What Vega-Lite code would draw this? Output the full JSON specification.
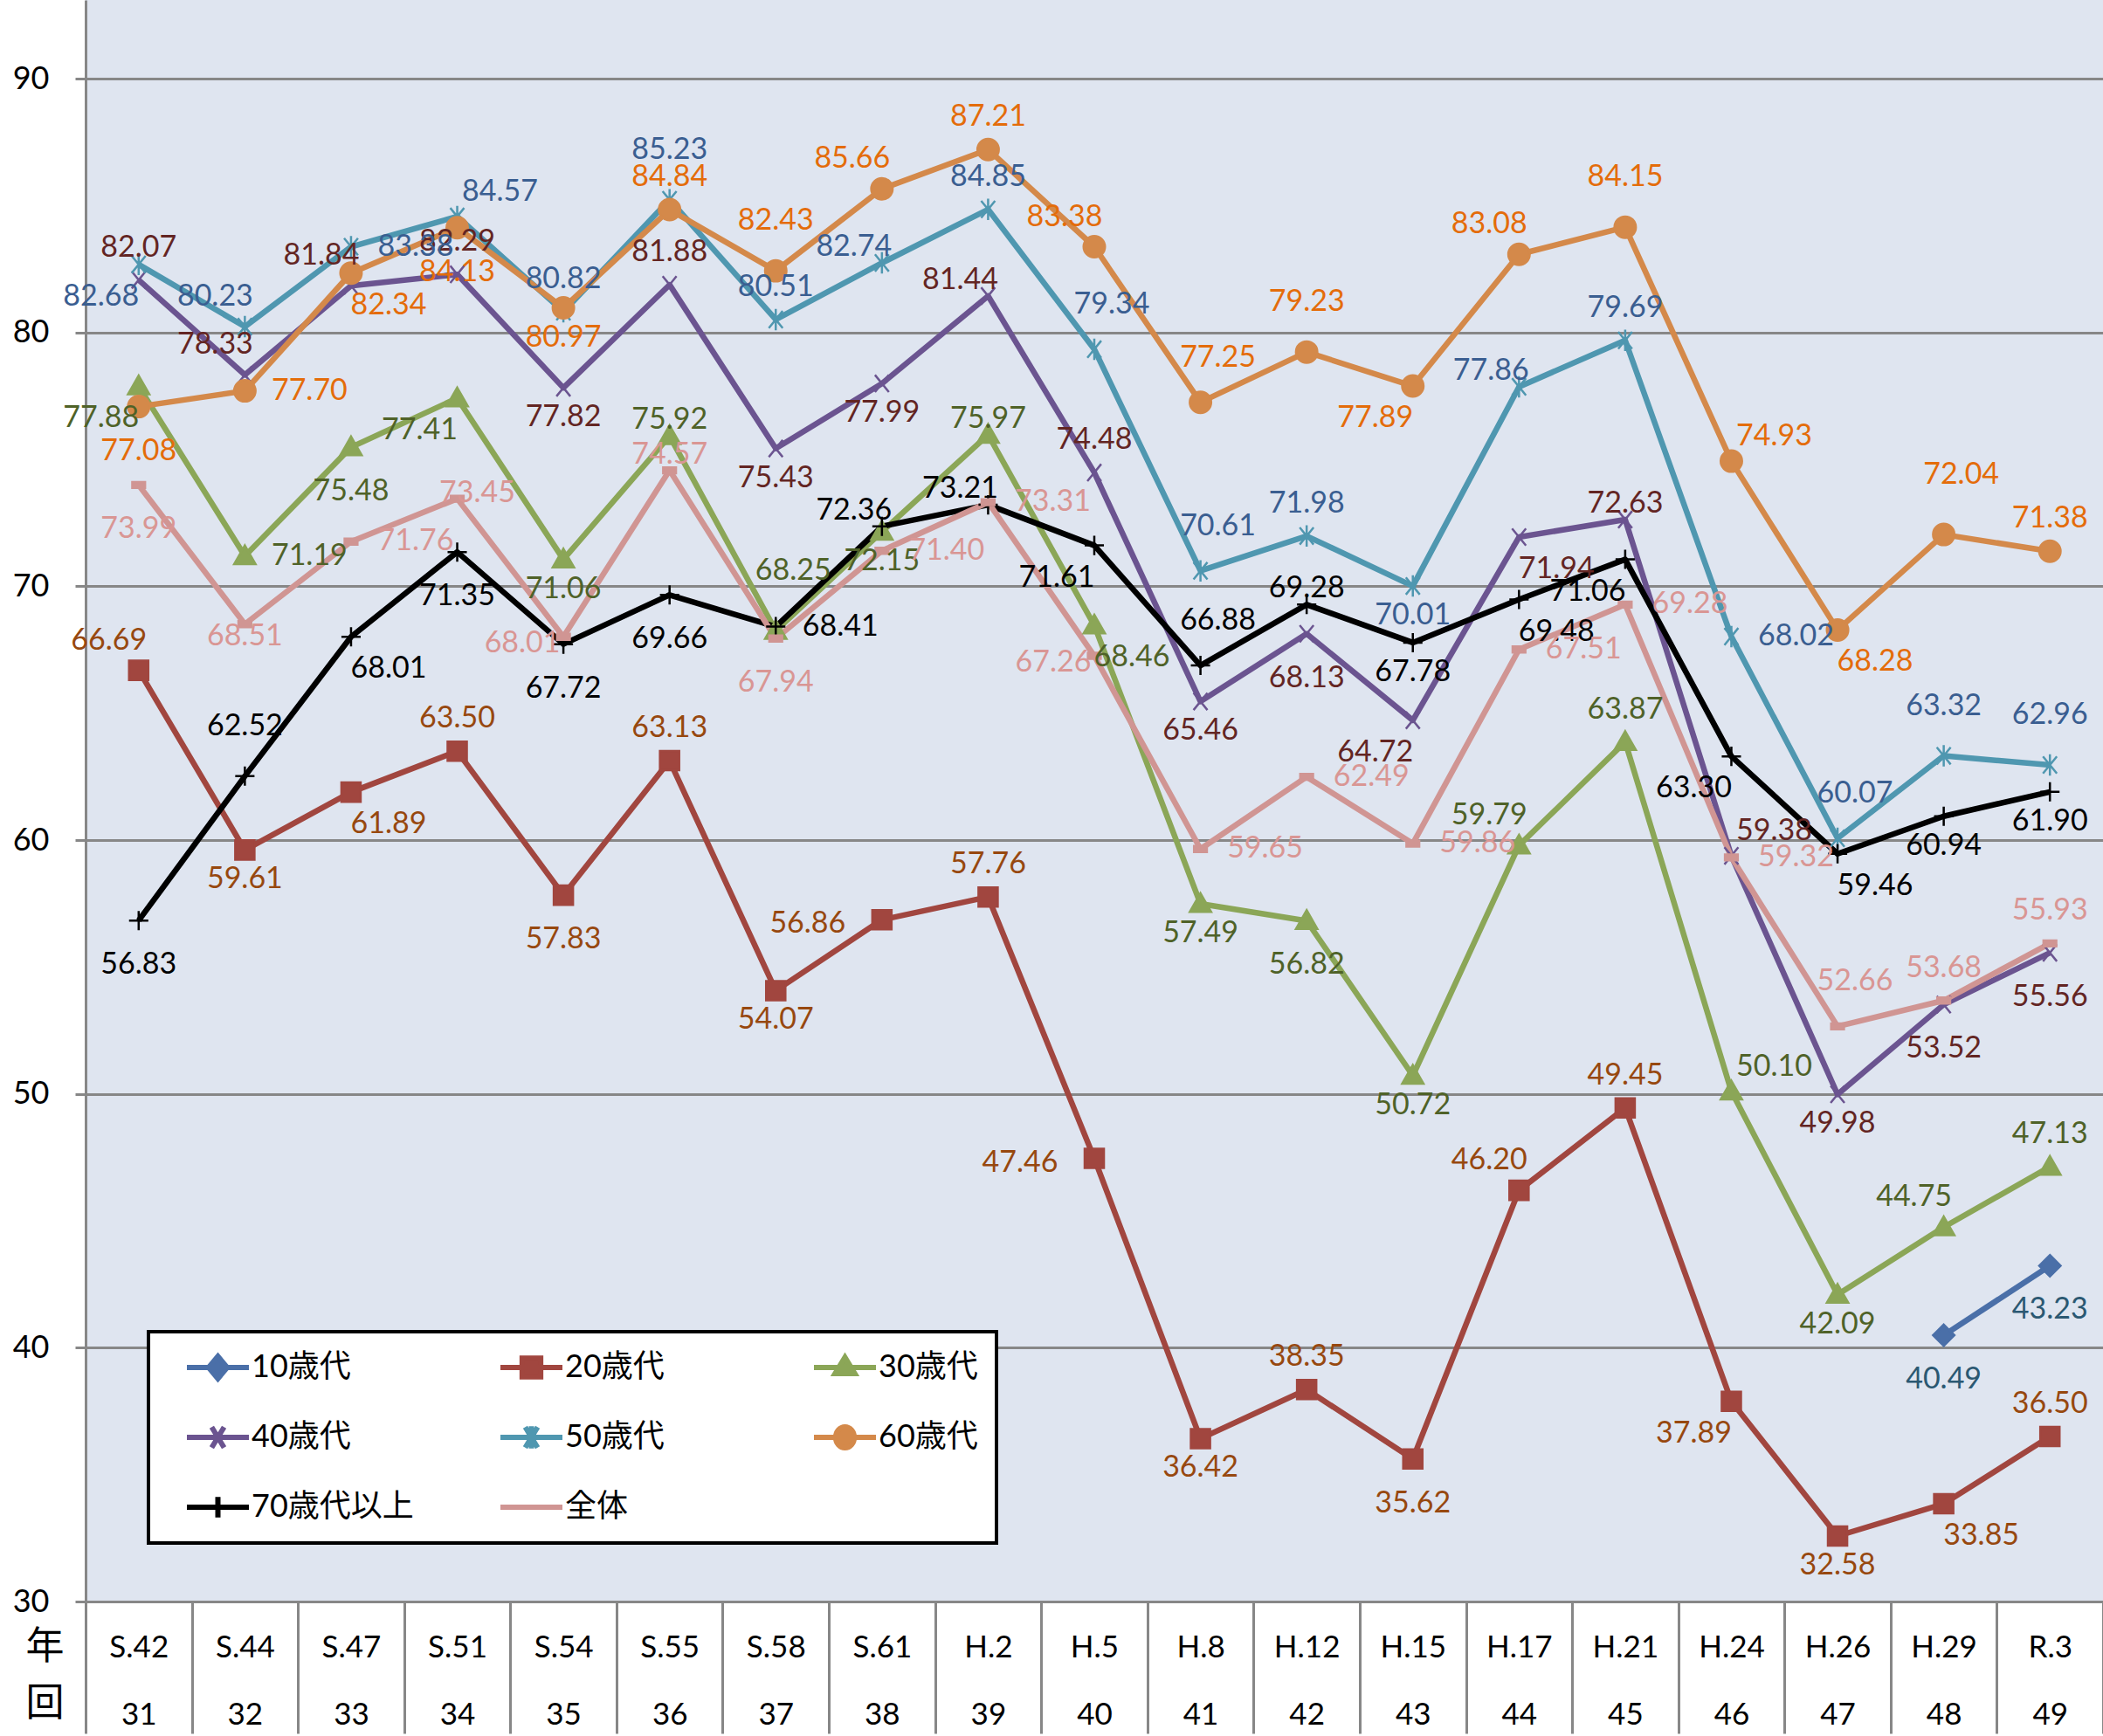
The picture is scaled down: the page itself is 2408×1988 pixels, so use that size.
{
  "$schema": "https://vega.github.io/schema/vega-lite/v6.json",
  "width": 2310,
  "height": 1834,
  "autosize": {"type": "none"},
  "padding": {"left": 98, "top": 0, "right": 0, "bottom": 154},
  "background": "white",
  "config": {
    "view": {"fill": "#DFE5F0", "stroke": null},
    "font": "Lato"
  },
  "data": {"values": [
    {"year":"S.42","kai":31,"series":"20歳代","value":66.69},
    {"year":"S.44","kai":32,"series":"20歳代","value":59.61},
    {"year":"S.47","kai":33,"series":"20歳代","value":61.89},
    {"year":"S.51","kai":34,"series":"20歳代","value":63.50},
    {"year":"S.54","kai":35,"series":"20歳代","value":57.83},
    {"year":"S.55","kai":36,"series":"20歳代","value":63.13},
    {"year":"S.58","kai":37,"series":"20歳代","value":54.07},
    {"year":"S.61","kai":38,"series":"20歳代","value":56.86},
    {"year":"H.2","kai":39,"series":"20歳代","value":57.76},
    {"year":"H.5","kai":40,"series":"20歳代","value":47.46},
    {"year":"H.8","kai":41,"series":"20歳代","value":36.42},
    {"year":"H.12","kai":42,"series":"20歳代","value":38.35},
    {"year":"H.15","kai":43,"series":"20歳代","value":35.62},
    {"year":"H.17","kai":44,"series":"20歳代","value":46.20},
    {"year":"H.21","kai":45,"series":"20歳代","value":49.45},
    {"year":"H.24","kai":46,"series":"20歳代","value":37.89},
    {"year":"H.26","kai":47,"series":"20歳代","value":32.58},
    {"year":"H.29","kai":48,"series":"20歳代","value":33.85},
    {"year":"R.3","kai":49,"series":"20歳代","value":36.50},
    {"year":"S.42","kai":31,"series":"30歳代","value":77.88},
    {"year":"S.44","kai":32,"series":"30歳代","value":71.19},
    {"year":"S.47","kai":33,"series":"30歳代","value":75.48},
    {"year":"S.51","kai":34,"series":"30歳代","value":77.41},
    {"year":"S.54","kai":35,"series":"30歳代","value":71.06},
    {"year":"S.55","kai":36,"series":"30歳代","value":75.92},
    {"year":"S.58","kai":37,"series":"30歳代","value":68.25},
    {"year":"S.61","kai":38,"series":"30歳代","value":72.15},
    {"year":"H.2","kai":39,"series":"30歳代","value":75.97},
    {"year":"H.5","kai":40,"series":"30歳代","value":68.46},
    {"year":"H.8","kai":41,"series":"30歳代","value":57.49},
    {"year":"H.12","kai":42,"series":"30歳代","value":56.82},
    {"year":"H.15","kai":43,"series":"30歳代","value":50.72},
    {"year":"H.17","kai":44,"series":"30歳代","value":59.79},
    {"year":"H.21","kai":45,"series":"30歳代","value":63.87},
    {"year":"H.24","kai":46,"series":"30歳代","value":50.10},
    {"year":"H.26","kai":47,"series":"30歳代","value":42.09},
    {"year":"H.29","kai":48,"series":"30歳代","value":44.75},
    {"year":"R.3","kai":49,"series":"30歳代","value":47.13},
    {"year":"S.42","kai":31,"series":"40歳代","value":82.07},
    {"year":"S.44","kai":32,"series":"40歳代","value":78.33},
    {"year":"S.47","kai":33,"series":"40歳代","value":81.84},
    {"year":"S.51","kai":34,"series":"40歳代","value":82.29},
    {"year":"S.54","kai":35,"series":"40歳代","value":77.82},
    {"year":"S.55","kai":36,"series":"40歳代","value":81.88},
    {"year":"S.58","kai":37,"series":"40歳代","value":75.43},
    {"year":"S.61","kai":38,"series":"40歳代","value":77.99},
    {"year":"H.2","kai":39,"series":"40歳代","value":81.44},
    {"year":"H.5","kai":40,"series":"40歳代","value":74.48},
    {"year":"H.8","kai":41,"series":"40歳代","value":65.46},
    {"year":"H.12","kai":42,"series":"40歳代","value":68.13},
    {"year":"H.15","kai":43,"series":"40歳代","value":64.72},
    {"year":"H.17","kai":44,"series":"40歳代","value":71.94},
    {"year":"H.21","kai":45,"series":"40歳代","value":72.63},
    {"year":"H.24","kai":46,"series":"40歳代","value":59.38},
    {"year":"H.26","kai":47,"series":"40歳代","value":49.98},
    {"year":"H.29","kai":48,"series":"40歳代","value":53.52},
    {"year":"R.3","kai":49,"series":"40歳代","value":55.56},
    {"year":"S.42","kai":31,"series":"50歳代","value":82.68},
    {"year":"S.44","kai":32,"series":"50歳代","value":80.23},
    {"year":"S.47","kai":33,"series":"50歳代","value":83.38},
    {"year":"S.51","kai":34,"series":"50歳代","value":84.57},
    {"year":"S.54","kai":35,"series":"50歳代","value":80.82},
    {"year":"S.55","kai":36,"series":"50歳代","value":85.23},
    {"year":"S.58","kai":37,"series":"50歳代","value":80.51},
    {"year":"S.61","kai":38,"series":"50歳代","value":82.74},
    {"year":"H.2","kai":39,"series":"50歳代","value":84.85},
    {"year":"H.5","kai":40,"series":"50歳代","value":79.34},
    {"year":"H.8","kai":41,"series":"50歳代","value":70.61},
    {"year":"H.12","kai":42,"series":"50歳代","value":71.98},
    {"year":"H.15","kai":43,"series":"50歳代","value":70.01},
    {"year":"H.17","kai":44,"series":"50歳代","value":77.86},
    {"year":"H.21","kai":45,"series":"50歳代","value":79.69},
    {"year":"H.24","kai":46,"series":"50歳代","value":68.02},
    {"year":"H.26","kai":47,"series":"50歳代","value":60.07},
    {"year":"H.29","kai":48,"series":"50歳代","value":63.32},
    {"year":"R.3","kai":49,"series":"50歳代","value":62.96},
    {"year":"S.42","kai":31,"series":"60歳代","value":77.08},
    {"year":"S.44","kai":32,"series":"60歳代","value":77.70},
    {"year":"S.47","kai":33,"series":"60歳代","value":82.34},
    {"year":"S.51","kai":34,"series":"60歳代","value":84.13},
    {"year":"S.54","kai":35,"series":"60歳代","value":80.97},
    {"year":"S.55","kai":36,"series":"60歳代","value":84.84},
    {"year":"S.58","kai":37,"series":"60歳代","value":82.43},
    {"year":"S.61","kai":38,"series":"60歳代","value":85.66},
    {"year":"H.2","kai":39,"series":"60歳代","value":87.21},
    {"year":"H.5","kai":40,"series":"60歳代","value":83.38},
    {"year":"H.8","kai":41,"series":"60歳代","value":77.25},
    {"year":"H.12","kai":42,"series":"60歳代","value":79.23},
    {"year":"H.15","kai":43,"series":"60歳代","value":77.89},
    {"year":"H.17","kai":44,"series":"60歳代","value":83.08},
    {"year":"H.21","kai":45,"series":"60歳代","value":84.15},
    {"year":"H.24","kai":46,"series":"60歳代","value":74.93},
    {"year":"H.26","kai":47,"series":"60歳代","value":68.28},
    {"year":"H.29","kai":48,"series":"60歳代","value":72.04},
    {"year":"R.3","kai":49,"series":"60歳代","value":71.38},
    {"year":"S.42","kai":31,"series":"70歳代以上","value":56.83},
    {"year":"S.44","kai":32,"series":"70歳代以上","value":62.52},
    {"year":"S.47","kai":33,"series":"70歳代以上","value":68.01},
    {"year":"S.51","kai":34,"series":"70歳代以上","value":71.35},
    {"year":"S.54","kai":35,"series":"70歳代以上","value":67.72},
    {"year":"S.55","kai":36,"series":"70歳代以上","value":69.66},
    {"year":"S.58","kai":37,"series":"70歳代以上","value":68.41},
    {"year":"S.61","kai":38,"series":"70歳代以上","value":72.36},
    {"year":"H.2","kai":39,"series":"70歳代以上","value":73.21},
    {"year":"H.5","kai":40,"series":"70歳代以上","value":71.61},
    {"year":"H.8","kai":41,"series":"70歳代以上","value":66.88},
    {"year":"H.12","kai":42,"series":"70歳代以上","value":69.28},
    {"year":"H.15","kai":43,"series":"70歳代以上","value":67.78},
    {"year":"H.17","kai":44,"series":"70歳代以上","value":69.48},
    {"year":"H.21","kai":45,"series":"70歳代以上","value":71.06},
    {"year":"H.24","kai":46,"series":"70歳代以上","value":63.30},
    {"year":"H.26","kai":47,"series":"70歳代以上","value":59.46},
    {"year":"H.29","kai":48,"series":"70歳代以上","value":60.94},
    {"year":"R.3","kai":49,"series":"70歳代以上","value":61.90},
    {"year":"S.42","kai":31,"series":"全体","value":73.99},
    {"year":"S.44","kai":32,"series":"全体","value":68.51},
    {"year":"S.47","kai":33,"series":"全体","value":71.76},
    {"year":"S.51","kai":34,"series":"全体","value":73.45},
    {"year":"S.54","kai":35,"series":"全体","value":68.01},
    {"year":"S.55","kai":36,"series":"全体","value":74.57},
    {"year":"S.58","kai":37,"series":"全体","value":67.94},
    {"year":"S.61","kai":38,"series":"全体","value":71.40},
    {"year":"H.2","kai":39,"series":"全体","value":73.31},
    {"year":"H.5","kai":40,"series":"全体","value":67.26},
    {"year":"H.8","kai":41,"series":"全体","value":59.65},
    {"year":"H.12","kai":42,"series":"全体","value":62.49},
    {"year":"H.15","kai":43,"series":"全体","value":59.86},
    {"year":"H.17","kai":44,"series":"全体","value":67.51},
    {"year":"H.21","kai":45,"series":"全体","value":69.28},
    {"year":"H.24","kai":46,"series":"全体","value":59.32},
    {"year":"H.26","kai":47,"series":"全体","value":52.66},
    {"year":"H.29","kai":48,"series":"全体","value":53.68},
    {"year":"R.3","kai":49,"series":"全体","value":55.93},
    {"year":"H.29","kai":48,"series":"10歳代","value":40.49},
    {"year":"R.3","kai":49,"series":"10歳代","value":43.23}
  ]},
  "resolve": {"scale": {"x": "independent"}, "axis": {"x": "independent"}},
  "layer": [
    {
      "encoding": {
        "x": {"field": "year", "type": "nominal",
              "scale": {"type": "point", "padding": 0.5, "domain": ["S.42","S.44","S.47","S.51","S.54","S.55","S.58","S.61","H.2","H.5","H.8","H.12","H.15","H.17","H.21","H.24","H.26","H.29","R.3"]},
              "axis": {"orient": "bottom", "title": "年", "titleX": -47, "titleY": 52, "titleAngle": 0, "titleAlign": "center", "titleBaseline": "middle", "titleFont": "Noto Sans CJK JP", "titleFontSize": 44, "titleFontWeight": "normal", "titleColor": "black",
                       "labelAngle": 0, "labelFont": "Lato", "labelFontSize": 35, "labelColor": "black", "labelBaseline": "middle", "labelPadding": 52,
                       "ticks": false, "grid": false, "domain": true, "domainColor": "#878787", "domainWidth": 3}},
        "y": {"field": "value", "type": "quantitative",
              "scale": {"domain": [30, 93.1], "nice": false, "zero": false},
              "axis": {"values": [30,40,50,60,70,80,90], "title": null, "grid": true, "gridColor": "#878787", "gridWidth": 3, "gridOpacity": 1,
                       "domain": true, "domainColor": "#878787", "domainWidth": 3, "ticks": true, "tickSize": 12, "tickColor": "#878787", "tickWidth": 3,
                       "labelFont": "Lato", "labelFontSize": 36, "labelColor": "black", "labelPadding": 30}}
      },
      "layer": [
        {
          "mark": {"type": "line", "strokeWidth": 6.5, "strokeJoin": "round"},
          "encoding": {
            "color": {"field": "series", "type": "nominal",
                      "scale": {"domain": ["10歳代","20歳代","30歳代","40歳代","50歳代","60歳代","70歳代以上","全体"], "range": ["#4A6FA8","#A1463F","#8BA657","#6B5490","#4F97B0","#D4894A","#000000","#D09593"]},
                      "legend": {"title": null, "orient": "none", "legendX": 72, "legendY": 1525, "columns": 3, "direction": "horizontal",
                                 "symbolSize": 5041, "symbolStrokeWidth": 6, "symbolOffset": 20, "clipHeight": 40,
                                 "labelFont": "Lato, Noto Sans CJK JP", "labelFontSize": 36, "labelColor": "black", "labelOffset": 0, "labelLimit": 400,
                                 "fillColor": "white", "strokeColor": "black", "padding": 21, "rowPadding": 40, "columnPadding": 76, "gridAlign": "all",
                                 "encode": {
                                   "legend": {"update": {"strokeWidth": {"value": 4}}},
                                   "symbols": {"update": {
                                     "shape": {"signal": "datum.value === '10歳代' ? 'M-1,0H1M0,-0.36L0.3,0L0,0.36L-0.3,0Z' : datum.value === '20歳代' ? 'M-1,0H1M-0.3,-0.3H0.3V0.3H-0.3Z' : datum.value === '30歳代' ? 'M-1,0H1M0,-0.33L0.32,0.2H-0.32Z' : datum.value === '40歳代' ? 'M-1,0H1M-0.2,-0.33L0.2,0.33M0.2,-0.33L-0.2,0.33' : datum.value === '50歳代' ? 'M-1,0H1M-0.2,-0.33L0.2,0.33M0.2,-0.33L-0.2,0.33M0,-0.36V0.36' : datum.value === '60歳代' ? 'M-1,0H1M-0.3,0A0.3,0.34,0,1,1,0.3,0A0.3,0.34,0,1,1,-0.3,0Z' : datum.value === '70歳代以上' ? 'M-1,0H1M0,-0.33V0.33' : 'M-1,0H1'"},
                                     "fill": {"scale": "color", "field": "value"},
                                     "stroke": {"scale": "color", "field": "value"},
                                     "strokeWidth": {"value": 6},
                                     "opacity": {"value": 1}
                                   }}
                                 }}},
            "order": {"field": "kai", "type": "quantitative"}
          }
        },
        {"transform": [{"filter": "datum.series === '10歳代'"}],
         "mark": {"type": "point", "shape": "M0,-1L1,0L0,1L-1,0Z", "filled": true, "size": 600, "strokeWidth": 2.5, "opacity": 1},
         "encoding": {"color": {"field": "series", "type": "nominal", "scale": {"domain": ["10歳代","20歳代","30歳代","40歳代","50歳代","60歳代","70歳代以上","全体"], "range": ["#4A6FA8","#A1463F","#8BA657","#6B5490","#4F97B0","#D4894A","#000000","#D09593"]}},
                      "stroke": {"field": "series", "type": "nominal", "scale": {"domain": ["10歳代","20歳代","30歳代","40歳代","50歳代","60歳代","70歳代以上","全体"], "range": ["#4A6FA8","#A1463F","#8BA657","#6B5490","#4F97B0","#D4894A","#000000","#D09593"]}, "legend": null}}},
        {"transform": [{"filter": "datum.series === '20歳代'"}],
         "mark": {"type": "point", "shape": "M-0.9,-0.9H0.9V0.9H-0.9Z", "filled": true, "size": 600, "strokeWidth": 2.5, "opacity": 1},
         "encoding": {"color": {"field": "series", "type": "nominal", "scale": {"domain": ["10歳代","20歳代","30歳代","40歳代","50歳代","60歳代","70歳代以上","全体"], "range": ["#4A6FA8","#A1463F","#8BA657","#6B5490","#4F97B0","#D4894A","#000000","#D09593"]}},
                      "stroke": {"field": "series", "type": "nominal", "scale": {"domain": ["10歳代","20歳代","30歳代","40歳代","50歳代","60歳代","70歳代以上","全体"], "range": ["#4A6FA8","#A1463F","#8BA657","#6B5490","#4F97B0","#D4894A","#000000","#D09593"]}, "legend": null}}},
        {"transform": [{"filter": "datum.series === '30歳代'"}],
         "mark": {"type": "point", "shape": "M0,-1L1,0.75H-1Z", "filled": true, "size": 600, "strokeWidth": 2.5, "opacity": 1},
         "encoding": {"color": {"field": "series", "type": "nominal", "scale": {"domain": ["10歳代","20歳代","30歳代","40歳代","50歳代","60歳代","70歳代以上","全体"], "range": ["#4A6FA8","#A1463F","#8BA657","#6B5490","#4F97B0","#D4894A","#000000","#D09593"]}},
                      "stroke": {"field": "series", "type": "nominal", "scale": {"domain": ["10歳代","20歳代","30歳代","40歳代","50歳代","60歳代","70歳代以上","全体"], "range": ["#4A6FA8","#A1463F","#8BA657","#6B5490","#4F97B0","#D4894A","#000000","#D09593"]}, "legend": null}}},
        {"transform": [{"filter": "datum.series === '40歳代'"}],
         "mark": {"type": "point", "shape": "M-0.65,-0.8L0.65,0.8M0.65,-0.8L-0.65,0.8", "filled": true, "size": 600, "strokeWidth": 2.5, "opacity": 1},
         "encoding": {"color": {"field": "series", "type": "nominal", "scale": {"domain": ["10歳代","20歳代","30歳代","40歳代","50歳代","60歳代","70歳代以上","全体"], "range": ["#4A6FA8","#A1463F","#8BA657","#6B5490","#4F97B0","#D4894A","#000000","#D09593"]}},
                      "stroke": {"field": "series", "type": "nominal", "scale": {"domain": ["10歳代","20歳代","30歳代","40歳代","50歳代","60歳代","70歳代以上","全体"], "range": ["#4A6FA8","#A1463F","#8BA657","#6B5490","#4F97B0","#D4894A","#000000","#D09593"]}, "legend": null}}},
        {"transform": [{"filter": "datum.series === '50歳代'"}],
         "mark": {"type": "point", "shape": "M-0.65,-0.8L0.65,0.8M0.65,-0.8L-0.65,0.8M0,-1V1", "filled": true, "size": 600, "strokeWidth": 2.5, "opacity": 1},
         "encoding": {"color": {"field": "series", "type": "nominal", "scale": {"domain": ["10歳代","20歳代","30歳代","40歳代","50歳代","60歳代","70歳代以上","全体"], "range": ["#4A6FA8","#A1463F","#8BA657","#6B5490","#4F97B0","#D4894A","#000000","#D09593"]}},
                      "stroke": {"field": "series", "type": "nominal", "scale": {"domain": ["10歳代","20歳代","30歳代","40歳代","50歳代","60歳代","70歳代以上","全体"], "range": ["#4A6FA8","#A1463F","#8BA657","#6B5490","#4F97B0","#D4894A","#000000","#D09593"]}, "legend": null}}},
        {"transform": [{"filter": "datum.series === '60歳代'"}],
         "mark": {"type": "point", "shape": "M-1,0A1,1,0,1,1,1,0A1,1,0,1,1,-1,0Z", "filled": true, "size": 600, "strokeWidth": 2.5, "opacity": 1},
         "encoding": {"color": {"field": "series", "type": "nominal", "scale": {"domain": ["10歳代","20歳代","30歳代","40歳代","50歳代","60歳代","70歳代以上","全体"], "range": ["#4A6FA8","#A1463F","#8BA657","#6B5490","#4F97B0","#D4894A","#000000","#D09593"]}},
                      "stroke": {"field": "series", "type": "nominal", "scale": {"domain": ["10歳代","20歳代","30歳代","40歳代","50歳代","60歳代","70歳代以上","全体"], "range": ["#4A6FA8","#A1463F","#8BA657","#6B5490","#4F97B0","#D4894A","#000000","#D09593"]}, "legend": null}}},
        {"transform": [{"filter": "datum.series === '70歳代以上'"}],
         "mark": {"type": "point", "shape": "M-0.9,0H0.9M0,-0.9V0.9", "filled": true, "size": 600, "strokeWidth": 2.5, "opacity": 1},
         "encoding": {"color": {"field": "series", "type": "nominal", "scale": {"domain": ["10歳代","20歳代","30歳代","40歳代","50歳代","60歳代","70歳代以上","全体"], "range": ["#4A6FA8","#A1463F","#8BA657","#6B5490","#4F97B0","#D4894A","#000000","#D09593"]}},
                      "stroke": {"field": "series", "type": "nominal", "scale": {"domain": ["10歳代","20歳代","30歳代","40歳代","50歳代","60歳代","70歳代以上","全体"], "range": ["#4A6FA8","#A1463F","#8BA657","#6B5490","#4F97B0","#D4894A","#000000","#D09593"]}, "legend": null}}},
        {"transform": [{"filter": "datum.series === '全体'"}],
         "mark": {"type": "point", "shape": "M-0.6,-0.28H0.6V0.28H-0.6Z", "filled": true, "size": 600, "strokeWidth": 2.5, "opacity": 1},
         "encoding": {"color": {"field": "series", "type": "nominal", "scale": {"domain": ["10歳代","20歳代","30歳代","40歳代","50歳代","60歳代","70歳代以上","全体"], "range": ["#4A6FA8","#A1463F","#8BA657","#6B5490","#4F97B0","#D4894A","#000000","#D09593"]}},
                      "stroke": {"field": "series", "type": "nominal", "scale": {"domain": ["10歳代","20歳代","30歳代","40歳代","50歳代","60歳代","70歳代以上","全体"], "range": ["#4A6FA8","#A1463F","#8BA657","#6B5490","#4F97B0","#D4894A","#000000","#D09593"]}, "legend": null}}},
        {"transform": [{"filter": "indexof(['60歳代|S.55','60歳代|H.2','60歳代|R.3','50歳代|S.54','50歳代|S.58','50歳代|H.2','50歳代|H.12','50歳代|H.21','40歳代|S.42','40歳代|S.51','40歳代|S.55','40歳代|H.5','30歳代|H.21','30歳代|R.3','20歳代|S.51','20歳代|S.55','20歳代|H.2','20歳代|H.12','20歳代|H.21','20歳代|R.3','全体|R.3','全体|H.29'], datum.series + '|' + datum.year) >= 0"}],
         "mark": {"type": "text", "dx": 0, "dy": -37, "font": "Lato", "fontSize": 34, "baseline": "middle", "align": "center"},
         "encoding": {"text": {"field": "value", "type": "quantitative", "format": ".2f"}, "fill": {"field": "series", "type": "nominal", "scale": {"domain": ["10歳代","20歳代","30歳代","40歳代","50歳代","60歳代","70歳代以上","全体"], "range": ["#2B5872","#97480F","#4F6228","#632523","#3A5E91","#E46C0A","#000000","#D99694"]}, "legend": null}}},
        {"transform": [{"filter": "indexof(['60歳代|S.58','60歳代|H.12','60歳代|H.21','50歳代|S.55','50歳代|H.29','50歳代|R.3','70歳代以上|S.44'], datum.series + '|' + datum.year) >= 0"}],
         "mark": {"type": "text", "dx": 0, "dy": -57, "font": "Lato", "fontSize": 34, "baseline": "middle", "align": "center"},
         "encoding": {"text": {"field": "value", "type": "quantitative", "format": ".2f"}, "fill": {"field": "series", "type": "nominal", "scale": {"domain": ["10歳代","20歳代","30歳代","40歳代","50歳代","60歳代","70歳代以上","全体"], "range": ["#2B5872","#97480F","#4F6228","#632523","#3A5E91","#E46C0A","#000000","#D99694"]}, "legend": null}}},
        {"transform": [{"filter": "indexof(['60歳代|H.29','30歳代|S.58'], datum.series + '|' + datum.year) >= 0"}],
         "mark": {"type": "text", "dx": 20, "dy": -68, "font": "Lato", "fontSize": 34, "baseline": "middle", "align": "center"},
         "encoding": {"text": {"field": "value", "type": "quantitative", "format": ".2f"}, "fill": {"field": "series", "type": "nominal", "scale": {"domain": ["10歳代","20歳代","30歳代","40歳代","50歳代","60歳代","70歳代以上","全体"], "range": ["#2B5872","#97480F","#4F6228","#632523","#3A5E91","#E46C0A","#000000","#D99694"]}, "legend": null}}},
        {"transform": [{"filter": "indexof(['40歳代|H.21','70歳代以上|H.12','全体|S.55','30歳代|S.55','30歳代|H.2'], datum.series + '|' + datum.year) >= 0"}],
         "mark": {"type": "text", "dx": 0, "dy": -18, "font": "Lato", "fontSize": 34, "baseline": "middle", "align": "center"},
         "encoding": {"text": {"field": "value", "type": "quantitative", "format": ".2f"}, "fill": {"field": "series", "type": "nominal", "scale": {"domain": ["10歳代","20歳代","30歳代","40歳代","50歳代","60歳代","70歳代以上","全体"], "range": ["#2B5872","#97480F","#4F6228","#632523","#3A5E91","#E46C0A","#000000","#D99694"]}, "legend": null}}},
        {"transform": [{"filter": "indexof(['全体|S.51'], datum.series + '|' + datum.year) >= 0"}],
         "mark": {"type": "text", "dx": 23, "dy": -6, "font": "Lato", "fontSize": 34, "baseline": "middle", "align": "center"},
         "encoding": {"text": {"field": "value", "type": "quantitative", "format": ".2f"}, "fill": {"field": "series", "type": "nominal", "scale": {"domain": ["10歳代","20歳代","30歳代","40歳代","50歳代","60歳代","70歳代以上","全体"], "range": ["#2B5872","#97480F","#4F6228","#632523","#3A5E91","#E46C0A","#000000","#D99694"]}, "legend": null}}},
        {"transform": [{"filter": "indexof(['全体|S.44'], datum.series + '|' + datum.year) >= 0"}],
         "mark": {"type": "text", "dx": 0, "dy": 14, "font": "Lato", "fontSize": 34, "baseline": "middle", "align": "center"},
         "encoding": {"text": {"field": "value", "type": "quantitative", "format": ".2f"}, "fill": {"field": "series", "type": "nominal", "scale": {"domain": ["10歳代","20歳代","30歳代","40歳代","50歳代","60歳代","70歳代以上","全体"], "range": ["#2B5872","#97480F","#4F6228","#632523","#3A5E91","#E46C0A","#000000","#D99694"]}, "legend": null}}},
        {"transform": [{"filter": "indexof(['50歳代|H.15','40歳代|S.54','40歳代|S.58','40歳代|S.61','40歳代|H.8','40歳代|H.26','30歳代|S.54','30歳代|S.61','30歳代|H.8','30歳代|H.15','30歳代|H.26','20歳代|S.44','20歳代|S.58','20歳代|H.8','20歳代|H.26','70歳代以上|H.15','70歳代以上|H.29','70歳代以上|R.3','60歳代|S.54'], datum.series + '|' + datum.year) >= 0"}],
         "mark": {"type": "text", "dx": 0, "dy": 34, "font": "Lato", "fontSize": 34, "baseline": "middle", "align": "center"},
         "encoding": {"text": {"field": "value", "type": "quantitative", "format": ".2f"}, "fill": {"field": "series", "type": "nominal", "scale": {"domain": ["10歳代","20歳代","30歳代","40歳代","50歳代","60歳代","70歳代以上","全体"], "range": ["#2B5872","#97480F","#4F6228","#632523","#3A5E91","#E46C0A","#000000","#D99694"]}, "legend": null}}},
        {"transform": [{"filter": "indexof(['60歳代|S.42','60歳代|S.51','40歳代|H.12','40歳代|H.29','40歳代|R.3','30歳代|S.47','30歳代|H.12','20歳代|S.54','20歳代|H.15','70歳代以上|S.42','70歳代以上|S.51','70歳代以上|S.54','70歳代以上|S.55','全体|S.42','全体|S.58','10歳代|H.29','10歳代|R.3'], datum.series + '|' + datum.year) >= 0"}],
         "mark": {"type": "text", "dx": 0, "dy": 51, "font": "Lato", "fontSize": 34, "baseline": "middle", "align": "center"},
         "encoding": {"text": {"field": "value", "type": "quantitative", "format": ".2f"}, "fill": {"field": "series", "type": "nominal", "scale": {"domain": ["10歳代","20歳代","30歳代","40歳代","50歳代","60歳代","70歳代以上","全体"], "range": ["#2B5872","#97480F","#4F6228","#632523","#3A5E91","#E46C0A","#000000","#D99694"]}, "legend": null}}},
        {"transform": [{"filter": "indexof(['60歳代|S.61','60歳代|H.5','60歳代|H.17','50歳代|S.44','40歳代|S.44','40歳代|S.47','30歳代|H.17','30歳代|H.29','20歳代|S.42','20歳代|H.17'], datum.series + '|' + datum.year) >= 0"}],
         "mark": {"type": "text", "dx": -34, "dy": -34, "font": "Lato", "fontSize": 34, "baseline": "middle", "align": "center"},
         "encoding": {"text": {"field": "value", "type": "quantitative", "format": ".2f"}, "fill": {"field": "series", "type": "nominal", "scale": {"domain": ["10歳代","20歳代","30歳代","40歳代","50歳代","60歳代","70歳代以上","全体"], "range": ["#2B5872","#97480F","#4F6228","#632523","#3A5E91","#E46C0A","#000000","#D99694"]}, "legend": null}}},
        {"transform": [{"filter": "indexof(['40歳代|H.2','70歳代以上|S.61','70歳代以上|H.2','50歳代|S.61','50歳代|H.17'], datum.series + '|' + datum.year) >= 0"}],
         "mark": {"type": "text", "dx": -32, "dy": -18, "font": "Lato", "fontSize": 34, "baseline": "middle", "align": "center"},
         "encoding": {"text": {"field": "value", "type": "quantitative", "format": ".2f"}, "fill": {"field": "series", "type": "nominal", "scale": {"domain": ["10歳代","20歳代","30歳代","40歳代","50歳代","60歳代","70歳代以上","全体"], "range": ["#2B5872","#97480F","#4F6228","#632523","#3A5E91","#E46C0A","#000000","#D99694"]}, "legend": null}}},
        {"transform": [{"filter": "indexof(['60歳代|H.8','50歳代|H.5','50歳代|H.8','50歳代|H.26','70歳代以上|H.8','全体|H.26'], datum.series + '|' + datum.year) >= 0"}],
         "mark": {"type": "text", "dx": 20, "dy": -51, "font": "Lato", "fontSize": 34, "baseline": "middle", "align": "center"},
         "encoding": {"text": {"field": "value", "type": "quantitative", "format": ".2f"}, "fill": {"field": "series", "type": "nominal", "scale": {"domain": ["10歳代","20歳代","30歳代","40歳代","50歳代","60歳代","70歳代以上","全体"], "range": ["#2B5872","#97480F","#4F6228","#632523","#3A5E91","#E46C0A","#000000","#D99694"]}, "legend": null}}},
        {"transform": [{"filter": "indexof(['60歳代|H.24','50歳代|S.51','40歳代|H.24','30歳代|H.24'], datum.series + '|' + datum.year) >= 0"}],
         "mark": {"type": "text", "dx": 49, "dy": -28, "font": "Lato", "fontSize": 34, "baseline": "middle", "align": "center"},
         "encoding": {"text": {"field": "value", "type": "quantitative", "format": ".2f"}, "fill": {"field": "series", "type": "nominal", "scale": {"domain": ["10歳代","20歳代","30歳代","40歳代","50歳代","60歳代","70歳代以上","全体"], "range": ["#2B5872","#97480F","#4F6228","#632523","#3A5E91","#E46C0A","#000000","#D99694"]}, "legend": null}}},
        {"transform": [{"filter": "indexof(['60歳代|H.15','50歳代|S.42','40歳代|H.15','30歳代|S.42','30歳代|S.51','20歳代|H.24','70歳代以上|H.5','70歳代以上|H.21','70歳代以上|H.24'], datum.series + '|' + datum.year) >= 0"}],
         "mark": {"type": "text", "dx": -43, "dy": 37, "font": "Lato", "fontSize": 34, "baseline": "middle", "align": "center"},
         "encoding": {"text": {"field": "value", "type": "quantitative", "format": ".2f"}, "fill": {"field": "series", "type": "nominal", "scale": {"domain": ["10歳代","20歳代","30歳代","40歳代","50歳代","60歳代","70歳代以上","全体"], "range": ["#2B5872","#97480F","#4F6228","#632523","#3A5E91","#E46C0A","#000000","#D99694"]}, "legend": null}}},
        {"transform": [{"filter": "indexof(['60歳代|S.47','60歳代|H.26','40歳代|H.17','30歳代|H.5','20歳代|S.47','20歳代|H.29','70歳代以上|S.47','70歳代以上|H.26','70歳代以上|H.17'], datum.series + '|' + datum.year) >= 0"}],
         "mark": {"type": "text", "dx": 43, "dy": 37, "font": "Lato", "fontSize": 34, "baseline": "middle", "align": "center"},
         "encoding": {"text": {"field": "value", "type": "quantitative", "format": ".2f"}, "fill": {"field": "series", "type": "nominal", "scale": {"domain": ["10歳代","20歳代","30歳代","40歳代","50歳代","60歳代","70歳代以上","全体"], "range": ["#2B5872","#97480F","#4F6228","#632523","#3A5E91","#E46C0A","#000000","#D99694"]}, "legend": null}}},
        {"transform": [{"filter": "indexof(['60歳代|S.44','50歳代|S.47','50歳代|H.24','30歳代|S.44','70歳代以上|S.58','全体|S.47','全体|S.61','全体|H.2','全体|H.8','全体|H.12','全体|H.15','全体|H.17','全体|H.21','全体|H.24'], datum.series + '|' + datum.year) >= 0"}],
         "mark": {"type": "text", "dx": 74, "dy": 0, "font": "Lato", "fontSize": 34, "baseline": "middle", "align": "center"},
         "encoding": {"text": {"field": "value", "type": "quantitative", "format": ".2f"}, "fill": {"field": "series", "type": "nominal", "scale": {"domain": ["10歳代","20歳代","30歳代","40歳代","50歳代","60歳代","70歳代以上","全体"], "range": ["#2B5872","#97480F","#4F6228","#632523","#3A5E91","#E46C0A","#000000","#D99694"]}, "legend": null}}},
        {"transform": [{"filter": "indexof(['20歳代|S.61','20歳代|H.5'], datum.series + '|' + datum.year) >= 0"}],
         "mark": {"type": "text", "dx": -85, "dy": 5, "font": "Lato", "fontSize": 34, "baseline": "middle", "align": "center"},
         "encoding": {"text": {"field": "value", "type": "quantitative", "format": ".2f"}, "fill": {"field": "series", "type": "nominal", "scale": {"domain": ["10歳代","20歳代","30歳代","40歳代","50歳代","60歳代","70歳代以上","全体"], "range": ["#2B5872","#97480F","#4F6228","#632523","#3A5E91","#E46C0A","#000000","#D99694"]}, "legend": null}}},
        {"transform": [{"filter": "indexof(['全体|S.54','全体|H.5'], datum.series + '|' + datum.year) >= 0"}],
         "mark": {"type": "text", "dx": -47, "dy": 8, "font": "Lato", "fontSize": 34, "baseline": "middle", "align": "center"},
         "encoding": {"text": {"field": "value", "type": "quantitative", "format": ".2f"}, "fill": {"field": "series", "type": "nominal", "scale": {"domain": ["10歳代","20歳代","30歳代","40歳代","50歳代","60歳代","70歳代以上","全体"], "range": ["#2B5872","#97480F","#4F6228","#632523","#3A5E91","#E46C0A","#000000","#D99694"]}, "legend": null}}}
      ]
    },
    {
      "mark": {"type": "tick", "opacity": 0},
      "encoding": {
        "x": {"field": "kai", "type": "ordinal",
              "scale": {"type": "band", "paddingInner": 0, "paddingOuter": 0},
              "axis": {"orient": "bottom", "title": "回", "titleX": -47, "titleY": 117, "titleAngle": 0, "titleAlign": "center", "titleBaseline": "middle", "titleFont": "Noto Sans CJK JP", "titleFontSize": 44, "titleFontWeight": "normal", "titleColor": "black",
                       "labelAngle": 0, "labelFont": "Lato", "labelFontSize": 35, "labelColor": "black", "labelBaseline": "middle", "labelPadding": -22,
                       "ticks": true, "tickBand": "extent", "tickSize": 151, "tickColor": "#878787", "tickWidth": 3, "grid": false, "domain": false}}
      }
    }
  ]
}
